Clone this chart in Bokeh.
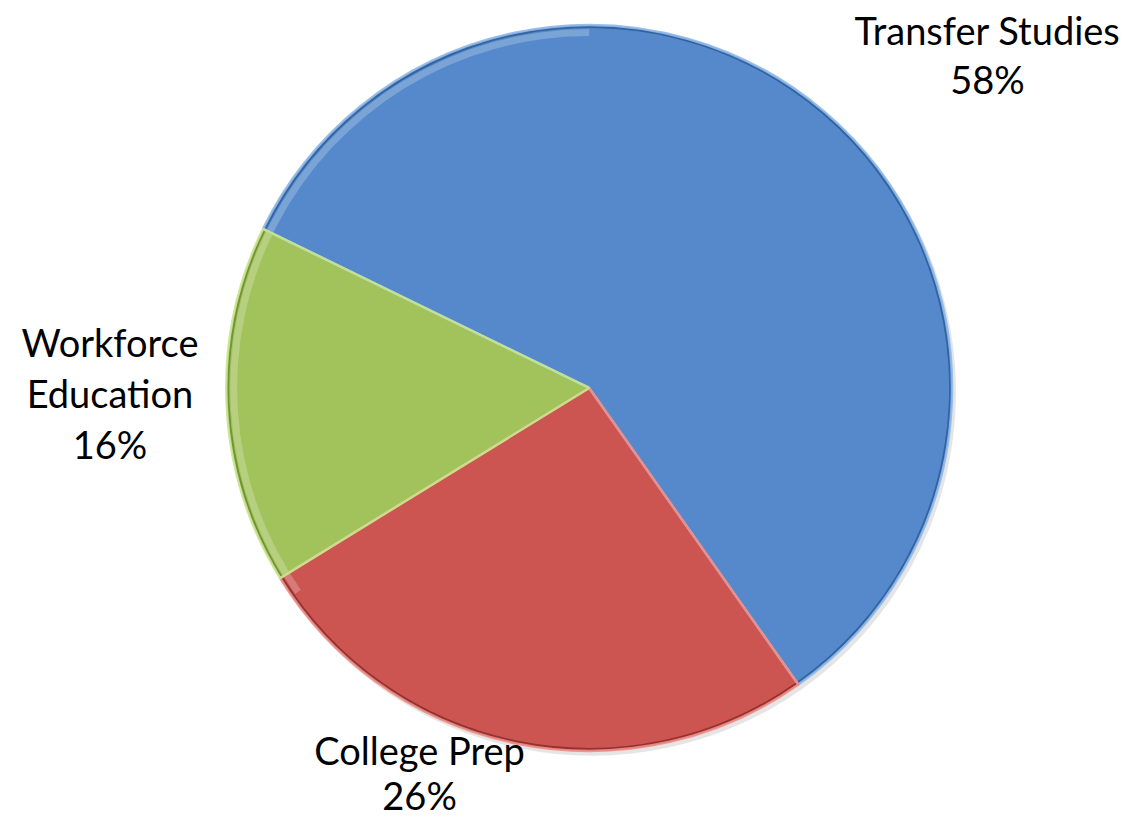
import math
from bokeh.plotting import figure
from bokeh.models import Range1d, ColumnDataSource
from bokeh.core.properties import value
from bokeh.embed import file_html
from bokeh.resources import INLINE

categories = ["Transfer Studies", "College Prep", "Workforce Education"]
shares = [58, 26, 16]
colors = ["#5589CB", "#CD5551", "#A2C35C"]
edge_light = ["#8FB8EA", "#F08C86", "#C9E68C"]
edge_dark = ["#33649F", "#923330", "#72933A"]

W, H = 1131, 823
RW, RH = 1147, 839  # reference frame units
p = figure(width=W, height=H, output_backend="svg", toolbar_location=None,
           x_range=Range1d(0, RW), y_range=Range1d(0, RH), min_border=0,
           background_fill_color="white", border_fill_color="white")
p.axis.visible = False
p.grid.visible = False
p.outline_line_color = None

cx, cy, r = 597, RH - 395, 368
first_angle = 296.0  # degrees, clockwise from 12 o'clock

total = sum(shares)
starts, ends = [], []
acc = first_angle
for s in shares:
    a0 = acc
    a1 = acc + s / total * 360.0
    starts.append(math.radians(90 - a0))
    ends.append(math.radians(90 - a1))
    acc = a1

src = ColumnDataSource(dict(start=starts, end=ends, color=colors,
                            light=edge_light, dark=edge_dark))

# soft shadow
p.wedge(x=cx + 3, y=cy - 4, radius=r + 1, start_angle="start", end_angle="end",
        direction="clock", fill_color="#000000", fill_alpha=0.10, line_color=None, source=src)

# outer dark rim
p.annular_wedge(x=cx, y=cy, inner_radius=r - 7, outer_radius=r, start_angle="start",
                end_angle="end", direction="clock", fill_color="dark", line_color=None,
                source=src)
# main wedges slightly inset
p.wedge(x=cx, y=cy, radius=r - 3, start_angle="start", end_angle="end",
        direction="clock", fill_color="color", line_color=None, source=src)
# highlight rim on upper-left part of the circle
p.annular_wedge(x=cx, y=cy, inner_radius=r - 11, outer_radius=r - 4,
                start_angle=math.radians(90), end_angle=math.radians(215),
                direction="anticlock", fill_color="#FFFFFF", fill_alpha=0.22, line_color=None)
# slice boundaries
p.wedge(x=cx, y=cy, radius=r, start_angle="start", end_angle="end",
        direction="clock", fill_color=None, line_color="light", line_width=2.5,
        line_alpha=0.9, source=src)

label_x = [1001, 425, 111]
label_y = [[RH - 30, RH - 80], [RH - 764, RH - 810], [RH - 348, RH - 400, RH - 452]]
label_lines = [["Transfer Studies", "58%"], ["College Prep", "26%"],
               ["Workforce", "Education", "16%"]]
lx, ly, lt = [], [], []
for i, cat in enumerate(categories):
    for yy, tt in zip(label_y[i], label_lines[i]):
        lx.append(label_x[i]); ly.append(yy); lt.append(tt)

p.text(x=lx, y=ly, text=lt, text_align="center", text_baseline="middle",
       text_font=value("Lato"), text_font_size="38px", text_color="#000000")

open("out.html", "w").write(file_html(p, INLINE))
